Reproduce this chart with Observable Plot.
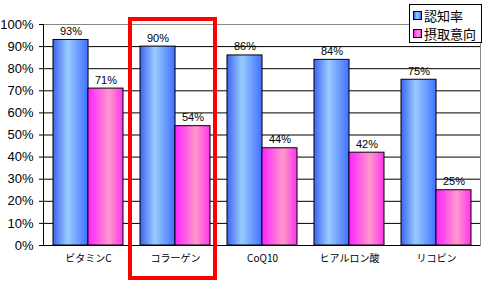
<!DOCTYPE html>
<html>
<head>
<meta charset="utf-8">
<script src="https://cdn.jsdelivr.net/npm/d3@7"></script>
<script src="https://cdn.jsdelivr.net/npm/@observablehq/plot@0.6"></script>
<style>
  html, body { margin: 0; padding: 0; background: #fff; }
  #wrap { position: relative; width: 492px; height: 290px; font-family: "Liberation Sans", "Noto Sans CJK JP", sans-serif; }
  #legend { position: absolute; left: 409px; top: 4px; width: 73px; height: 39px; border: 1px solid #000; background: #fff; box-sizing: border-box; padding: 1px 0 0 3px; }
  .item { display: flex; align-items: center; height: 18px; font-size: 13px; font-family: "Noto Sans CJK JP", sans-serif; color: #000; }
  .sw { width: 7px; height: 7px; border: 1px solid #000; margin-right: 2px; }
</style>
</head>
<body>
<div id="wrap"></div>
<script>
const categories = ["ビタミンC", "コラーゲン", "CoQ10", "ヒアルロン酸", "リコピン"];
const series = ["認知率", "摂取意向"];
const awareness = [0.93, 0.90, 0.86, 0.84, 0.75];
const intent = [0.71, 0.54, 0.44, 0.42, 0.25];
const yTicks = [0, 0.1, 0.2, 0.3, 0.4, 0.5, 0.6, 0.7, 0.8, 0.9, 1.0];
const highlight = ["コラーゲン"];

const pct = d => Math.round(d * 100) + "%";

const W = 492, H = 290, ML = 43, MR = 12, MT = 24, MB = 45;
const padIn = 0.2, padOut = 0.1;
const step = (W - ML - MR) / (categories.length - padIn + 2 * padOut);
const half = step * (1 - padIn) / 2;

const chart = Plot.plot({
  width: W,
  height: H,
  marginLeft: ML,
  marginRight: MR,
  marginTop: MT,
  marginBottom: MB,
  style: {fontFamily: "Liberation Sans, Noto Sans CJK JP, sans-serif", background: "transparent", overflow: "visible"},
  x: {domain: categories, paddingInner: padIn, paddingOuter: padOut, label: null},
  y: {domain: [0, 1], label: null},
  marks: [
    Plot.ruleY(yTicks.filter(d => d > 0 && d < 1), {stroke: "#000", strokeWidth: 1}),
    Plot.ruleY([1], {stroke: "#888"}),
    Plot.frame({anchor: "right", stroke: "#888"}),
    Plot.frame({anchor: "left", stroke: "#000"}),
    Plot.ruleY([0], {stroke: "#000"}),
    Plot.axisY({ticks: yTicks, tickFormat: pct, tickSize: 4, tickPadding: 6, fontSize: 13, label: null}),
    Plot.axisX({tickSize: 0, tickPadding: 9, fontSize: 10, label: null, fontFamily: "Noto Sans CJK JP, sans-serif"}),
    Plot.barY(categories, {x: categories, y: awareness, fill: "url(#gBlue)", stroke: "#000", strokeWidth: 1, insetRight: half}),
    Plot.barY(categories, {x: categories, y: intent, fill: "url(#gPink)", stroke: "#000", strokeWidth: 1, insetLeft: half}),
    Plot.text(categories, {x: categories, y: awareness, text: awareness.map(pct), dx: -half / 2, lineAnchor: "bottom", dy: -5, fontSize: 11, fill: "#000"}),
    Plot.text(categories, {x: categories, y: intent, text: intent.map(pct), dx: half / 2, lineAnchor: "bottom", dy: -5, fontSize: 11, fill: "#000"}),
    Plot.barY(highlight, {x: d => d, y1: 0, y2: 1, fill: "none", stroke: "#ff0000", strokeWidth: 4, insetLeft: -10, insetRight: -5, insetTop: -5, insetBottom: -33})
  ]
});

const defs = d3.select(chart).insert("defs", ":first-child");
function grad(id, stops) {
  const g = defs.append("linearGradient").attr("id", id).attr("x1", 0).attr("x2", 1).attr("y1", 0).attr("y2", 0);
  stops.forEach(([o, c]) => g.append("stop").attr("offset", o).attr("stop-color", c));
}
grad("gBlue", [[0, "#3d63f2"], [0.42, "#99ccff"], [1, "#4170ff"]]);
grad("gPink", [[0, "#ff22ff"], [0.6, "#ff99cc"], [1, "#ff33ee"]]);

const wrap = document.getElementById("wrap");
wrap.appendChild(chart);
const legend = document.createElement("div");
legend.id = "legend";
const grads = ["linear-gradient(to right,#3d63f2,#99ccff 45%,#4170ff)", "linear-gradient(to right,#ff22ff,#ff99cc 60%,#ff33ee)"];
series.forEach((s, i) => {
  const it = document.createElement("div");
  it.className = "item";
  const sw = document.createElement("span");
  sw.className = "sw";
  sw.style.background = grads[i];
  it.appendChild(sw);
  it.appendChild(document.createTextNode(s));
  legend.appendChild(it);
});
wrap.appendChild(legend);
</script>
</body>
</html>
